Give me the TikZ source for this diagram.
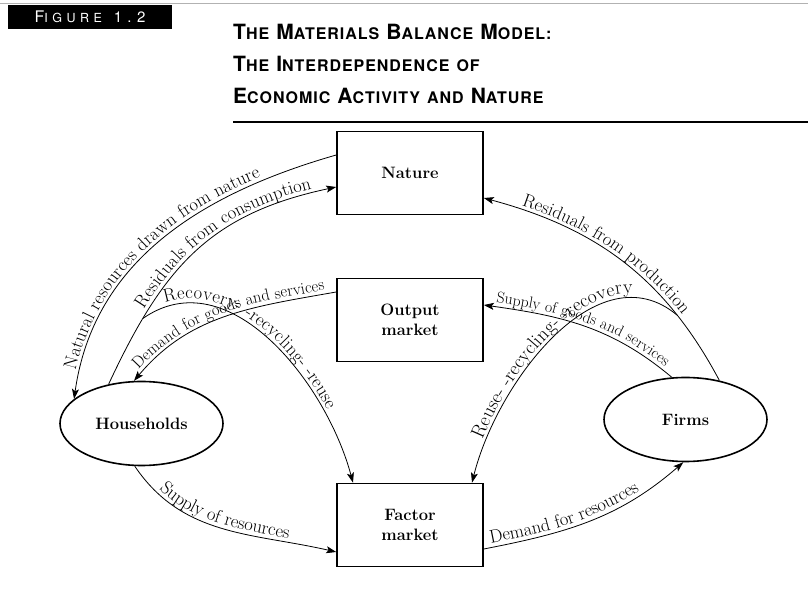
\documentclass[tikz,border=0pt]{standalone}
\usepackage{fontspec}
\usepackage{tikz}
\usetikzlibrary{arrows.meta,shapes.geometric,decorations.text,calc}
\newfontfamily\headfont[LetterSpace=6]{TeX Gyre Heros}
\newfontfamily\tagfont[LetterSpace=36]{TeX Gyre Heros}
\newcommand{\capsz}{\fontsize{21}{24}\selectfont}
\newcommand{\smsz}{\fontsize{16}{19}\selectfont}
\newcommand{\hsc}[2]{{\capsz #1}{\smsz #2}}
\newcommand{\lblfont}{\fontsize{18.5}{22}\selectfont}
\tikzset{
  mbox/.style={draw,line width=1.6pt,minimum width=146pt,minimum height=83pt,align=center,font=\fontsize{16.5}{19.5}\selectfont\bfseries},
  agent/.style={draw,ellipse,line width=1.6pt,minimum width=163pt,minimum height=84pt,inner sep=0pt,font=\fontsize{16.5}{19.5}\selectfont\bfseries},
  arr/.style={-{Stealth[length=10pt,width=7pt,inset=2.2pt]},line width=0.8pt},
  lbl/.style={postaction={decorate,decoration={text along path,raise=4pt,#1}}},
}

\begin{document}
\begin{tikzpicture}[x=1pt,y=1pt,execute at begin picture={\lblfont}]
  \useasboundingbox (0,0) rectangle (808,589);
  % heading
  \draw[black!30,line width=0.6pt] (0,586) -- (808,586);
  \node[fill=black,text=white,minimum width=164pt,minimum height=22pt,font=\tagfont] (figtag) at (90,572)
    {{\fontsize{16}{18}\selectfont F}{\fontsize{12.5}{14}\selectfont IGURE} {\fontsize{15}{17}\selectfont 1.2}};
  \node[anchor=base west,inner sep=0pt,font=\headfont\bfseries\capsz] (ttl1) at (233,549)
    {\hsc{T}{HE} \hsc{M}{ATERIALS} \hsc{B}{ALANCE} \hsc{M}{ODEL:}};
  \node[anchor=base west,inner sep=0pt,font=\headfont\bfseries\capsz] (ttl2) at (233,517)
    {\hsc{T}{HE} \hsc{I}{NTERDEPENDENCE} {\smsz OF}};
  \node[anchor=base west,inner sep=0pt,font=\headfont\bfseries\capsz] (ttl3) at (233,485)
    {\hsc{E}{CONOMIC} \hsc{A}{CTIVITY} {\smsz AND} \hsc{N}{ATURE}};
  \draw[line width=1.4pt] (233,467) -- (808,467);

  % sectors and markets
  \node[mbox] (nat) at (410,416) {Nature};
  \node[mbox] (outm) at (410,269) {Output\\market};
  \node[mbox] (fac) at (410,64) {Factor\\market};
  \node[agent] (hh) at (141.5,165.5) {Households};
  \node[agent] (firm) at (685.5,169.5) {Firms};

  % flows between households and nature
  \draw[arr,lbl={reverse path,text align={left indent=28pt},text={Natural resources drawn from nature}}]
    ([yshift=18pt]nat.west) to[out=196,in=82] (hh.160);
  \draw[arr,lbl={text align={right,right indent=24pt},text={Residuals from consumption}}]
    (hh.130) to[out=65,in=192,looseness=1.1] coordinate[pos=0.21] (recl) ([yshift=-14pt]nat.west);
  \draw[arr,lbl={reverse path,text align=center,text={|\fontsize{16.5}{19}\selectfont|Demand for goods and services}}]
    ([yshift=28pt]outm.west) to[out=190,in=50] (hh.100);
  \draw[arr,lbl={text align={left indent=26pt},text={Recovery- -recycling- -reuse}}]
    (recl) to[out=35,in=105] ([xshift=-57pt]fac.north);

  % flows between firms and nature
  \draw[arr,lbl={reverse path,text align={left indent=38pt},text={Residuals from production}}]
    (firm.49) to[out=118,in=-15] coordinate[pos=0.24] (recr) ([yshift=-25pt]nat.east);
  \draw[arr,lbl={reverse path,text align=center,text={|\fontsize{15.8}{18}\selectfont|Supply of goods and services}}]
    (firm.108) to[out=140,in=-8] ([yshift=15pt]outm.east);
  \draw[arr,lbl={reverse path,text align={left indent=44pt},text={|\fontsize{19.5}{23}\selectfont|Reuse- -recycling- -recovery}}]
    (recr) to[out=140,in=76] ([xshift=62pt]fac.north);

  % factor market
  \draw[arr,lbl={text align={left indent=34pt},text={Supply of resources}}]
    (hh.261) to[out=-56,in=167] ([yshift=-27pt]fac.west);
  \draw[arr,lbl={text align={left indent=8pt},text={Demand for resources}}]
    ([yshift=-24pt]fac.east) to[out=11,in=221] (firm.267);
\end{tikzpicture}
\end{document}
